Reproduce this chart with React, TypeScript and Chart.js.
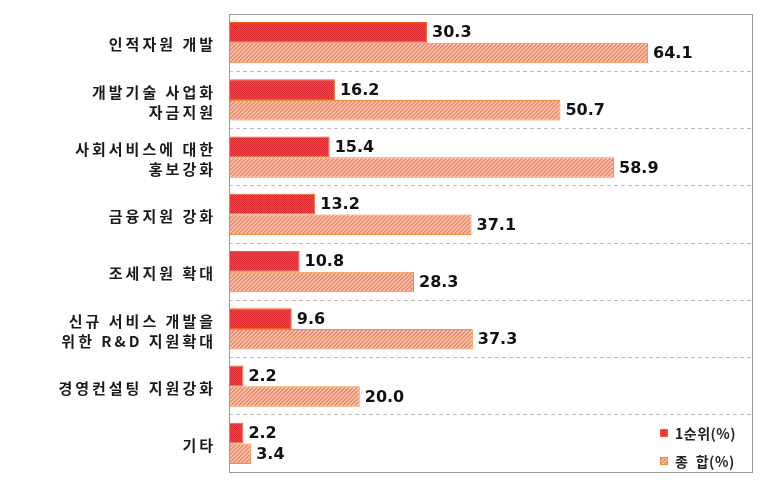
import React, { useEffect, useRef } from "react";
import { Chart, registerables } from "chart.js";
Chart.register(...registerables);

const categories: string[][] = [
  ["인적자원 개발"],
  ["개발기술 사업화", "자금지원"],
  ["사회서비스에 대한", "홍보강화"],
  ["금융지원 강화"],
  ["조세지원 확대"],
  ["신규 서비스 개발을", "위한 R&D 지원확대"],
  ["경영컨설팅 지원강화"],
  ["기타"],
];
const firstRank = [30.3, 16.2, 15.4, 13.2, 10.8, 9.6, 2.2, 2.2];
const total = [64.1, 50.7, 58.9, 37.1, 28.3, 37.3, 20.0, 3.4];
const seriesNames = ["1순위(%)", "종  합(%)"];

function makeDotPattern(): CanvasPattern | string {
  const c = document.createElement("canvas");
  c.width = 2;
  c.height = 2;
  const x = c.getContext("2d");
  if (!x) return "#e8403c";
  x.fillStyle = "#f04c46";
  x.fillRect(0, 0, 2, 2);
  x.fillStyle = "#d8282e";
  x.fillRect(0, 0, 1, 1);
  x.fillRect(1, 1, 1, 1);
  return x.createPattern(c, "repeat") || "#e8403c";
}

function makeHatchPattern(): CanvasPattern | string {
  const c = document.createElement("canvas");
  c.width = 4;
  c.height = 4;
  const x = c.getContext("2d");
  if (!x) return "#f5a585";
  x.fillStyle = "#f9c2a8";
  x.fillRect(0, 0, 4, 4);
  x.fillStyle = "#f08a70";
  for (let i = 0; i < 4; i++) {
    x.fillRect(i % 4, 3 - i, 1, 1);
    x.fillRect((i + 1) % 4, 3 - i, 1, 1);
  }
  return x.createPattern(c, "repeat") || "#f5a585";
}

export default function App() {
  const ref = useRef<HTMLCanvasElement | null>(null);
  useEffect(() => {
    document.body.style.margin = "0";
    if (!ref.current) return;
    const dot = makeDotPattern();
    const hatch = makeHatchPattern();
    const frame = {
      id: "frame",
      afterDraw(chart: any) {
        const { ctx, chartArea: a } = chart;
        ctx.save();
        ctx.strokeStyle = "#9a9a9a";
        ctx.lineWidth = 1;
        ctx.strokeRect(Math.round(a.left) + 0.5, Math.round(a.top) + 0.5, Math.round(a.right - a.left), Math.round(a.bottom - a.top));
        // category labels
        const yScale = chart.scales.y;
        ctx.font = "bold 15px 'Noto Sans CJK KR', sans-serif";
        ctx.fillStyle = "#1a1a1a";
        ctx.textAlign = "right";
        ctx.textBaseline = "middle";
        const ls = 3;
        (ctx as any).letterSpacing = ls + "px";
        categories.forEach((lines, i) => {
          const cy = yScale.getPixelForValue(i);
          const lh = 20;
          const y0 = cy - ((lines.length - 1) * lh) / 2 + 2;
          lines.forEach((t, k) => ctx.fillText(t, 213 + ls, y0 + k * lh));
        });
        // value labels
        (ctx as any).letterSpacing = "0px";
        ctx.font = "bold 16px 'DejaVu Sans', sans-serif";
        ctx.fillStyle = "#111";
        ctx.textAlign = "left";
        chart.data.datasets.forEach((ds: any, di: number) => {
          const meta = chart.getDatasetMeta(di);
          meta.data.forEach((bar: any, i: number) => {
            ctx.fillText(Number(ds.data[i]).toFixed(1), bar.x + 5, bar.y + 1);
          });
        });
        // legend
        const fills = [dot, hatch];
        const borders = ["#ff5a1a", "#e8903a"];
        const lx = 660;
        const ly = [433, 461];
        ctx.font = "bold 14px 'Noto Sans CJK KR', sans-serif";
        (ctx as any).letterSpacing = "0.5px";
        seriesNames.forEach((n, i) => {
          ctx.fillStyle = fills[i] as any;
          ctx.fillRect(lx, ly[i] - 4, 8, 8);
          ctx.strokeStyle = borders[i];
          ctx.strokeRect(lx + 0.5, ly[i] - 3.5, 7, 7);
          ctx.fillStyle = "#222";
          ctx.fillText(n, lx + 15, ly[i] + 1);
        });
        ctx.restore();
      },
    };
    const chart = new Chart(ref.current, {
      type: "bar",
      data: {
        labels: categories.map((c) => c.join(" ")),
        datasets: [
          {
            label: seriesNames[0],
            data: firstRank,
            backgroundColor: dot as any,
            borderColor: "#ff5a1a",
            borderWidth: 1,
            barPercentage: 1,
            categoryPercentage: 0.72,
          },
          {
            label: seriesNames[1],
            data: total,
            backgroundColor: hatch as any,
            borderColor: "#e8903a",
            borderWidth: 1,
            barPercentage: 1,
            categoryPercentage: 0.72,
          },
        ],
      },
      options: {
        indexAxis: "y",
        animation: false,
        responsive: false,
        layout: { padding: { top: 14, bottom: 8, right: 12, left: 0 } },
        plugins: { legend: { display: false }, tooltip: { enabled: false } },
        scales: {
          x: { display: false, min: 0, max: 80 },
          y: {
            afterFit(scale: any) {
              scale.width = 229;
              scale.paddingTop = 0;
              scale.paddingBottom = 0;
            },
            grid: {
              offset: true,
              drawTicks: false,
              color: "#bdbdbd",
              lineWidth: 1,
            },
            border: { display: false, dash: [4, 3] } as any,
            ticks: { display: false },
          },
        },
      },
      plugins: [frame],
    } as any);
    return () => chart.destroy();
  }, []);
  return <canvas ref={ref} width={764} height={480} style={{ display: "block" }} />;
}
